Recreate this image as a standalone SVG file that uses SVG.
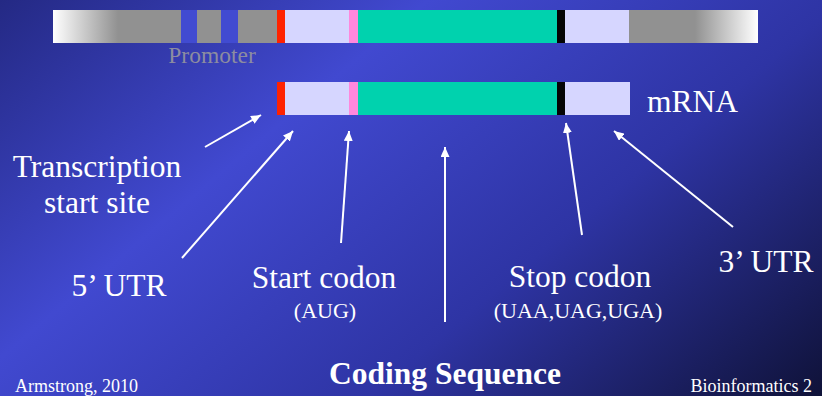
<svg xmlns="http://www.w3.org/2000/svg" width="822" height="396" viewBox="0 0 822 396">
  <defs>
    <linearGradient id="bg" gradientUnits="userSpaceOnUse" x1="0" y1="0" x2="534" y2="638">
      <stop offset="0" stop-color="#242984"/>
      <stop offset="0.33" stop-color="#4149d0"/>
      <stop offset="0.65" stop-color="#2e34a4"/>
      <stop offset="1" stop-color="#0f1238"/>
    </linearGradient>
    <linearGradient id="fadeL" x1="0" y1="0" x2="1" y2="0">
      <stop offset="0" stop-color="#ffffff"/>
      <stop offset="1" stop-color="#919191"/>
    </linearGradient>
    <linearGradient id="fadeR" x1="0" y1="0" x2="1" y2="0">
      <stop offset="0" stop-color="#919191"/>
      <stop offset="1" stop-color="#ffffff"/>
    </linearGradient>
    <marker id="head" markerUnits="userSpaceOnUse" markerWidth="11" markerHeight="9" refX="10" refY="4.5" orient="auto">
      <path d="M0,0 L10,4.5 L0,9 z" fill="#ffffff"/>
    </marker>
  </defs>
  <style>
    .lbl { font-family: "Liberation Serif", "Times New Roman", serif; fill: #ffffff; font-size: 31.5px; }
    .sub { font-family: "Liberation Serif", "Times New Roman", serif; fill: #ffffff; font-size: 22px; }
    .foot { font-family: "Liberation Serif", "Times New Roman", serif; fill: #ffffff; font-size: 18px; }
    .conn line { stroke: #ffffff; stroke-width: 2; marker-end: url(#head); }
  </style>

  <rect x="0" y="0" width="822" height="396" fill="url(#bg)"/>

  <!-- genomic DNA bar -->
  <g id="gene">
    <rect x="53" y="10" width="65" height="33" fill="url(#fadeL)"/>
    <rect x="118" y="10" width="63" height="33" fill="#919191"/>
    <rect x="181" y="10" width="16" height="33" fill="#414bd1"/>
    <rect x="197" y="10" width="24" height="33" fill="#919191"/>
    <rect x="221" y="10" width="17" height="33" fill="#414bd1"/>
    <rect x="238" y="10" width="39" height="33" fill="#919191"/>
    <rect x="277" y="10" width="8" height="33" fill="#ff2200"/>
    <rect x="285" y="10" width="64" height="33" fill="#d6d6ff"/>
    <rect x="349" y="10" width="9" height="33" fill="#ff88dd"/>
    <rect x="358" y="10" width="199" height="33" fill="#00d2ae"/>
    <rect x="557" y="10" width="8" height="33" fill="#050505"/>
    <rect x="565" y="10" width="64" height="33" fill="#d6d6ff"/>
    <rect x="629" y="10" width="66" height="33" fill="#919191"/>
    <rect x="695" y="10" width="63" height="33" fill="url(#fadeR)"/>
    <text x="212" y="63" text-anchor="middle" font-family="Liberation Serif, Times New Roman, serif" font-size="23.5" fill="#8c8ca0">Promoter</text>
  </g>

  <!-- mature transcript bar -->
  <g id="mrna">
    <rect x="277" y="82" width="8" height="33" fill="#ff2200"/>
    <rect x="285" y="82" width="64" height="33" fill="#d6d6ff"/>
    <rect x="349" y="82" width="9" height="33" fill="#ff88dd"/>
    <rect x="358" y="82" width="199" height="33" fill="#00d2ae"/>
    <rect x="557" y="82" width="8" height="33" fill="#050505"/>
    <rect x="565" y="82" width="65" height="33" fill="#d6d6ff"/>
    <text class="lbl" x="647" y="112">mRNA</text>
  </g>

  <g id="tss">
    <text class="lbl" x="97" y="177" text-anchor="middle">Transcription</text>
    <text class="lbl" x="97" y="213" text-anchor="middle">start site</text>
  </g>
  <g id="utr5">
    <text class="lbl" x="119" y="296" text-anchor="middle">5’ UTR</text>
  </g>
  <g id="start">
    <text class="lbl" x="324" y="288" text-anchor="middle">Start codon</text>
    <text class="sub" x="325" y="318" text-anchor="middle">(AUG)</text>
  </g>
  <g id="cds">
    <text class="lbl" x="445" y="384" text-anchor="middle" font-weight="bold" font-size="32">Coding Sequence</text>
  </g>
  <g id="stop">
    <text class="lbl" x="580" y="287" text-anchor="middle">Stop codon</text>
    <text class="sub" x="578" y="318" text-anchor="middle">(UAA,UAG,UGA)</text>
  </g>
  <g id="utr3">
    <text class="lbl" x="766" y="272" text-anchor="middle">3’ UTR</text>
  </g>

  <g id="footer">
    <text class="foot" x="15" y="392">Armstrong, 2010</text>
    <text class="foot" x="812" y="392" text-anchor="end">Bioinformatics 2</text>
  </g>

  <g id="connectors" class="conn">
    <line x1="205" y1="147" x2="261" y2="115"/>
    <line x1="182" y1="258" x2="293" y2="131"/>
    <line x1="341" y1="243" x2="349" y2="131"/>
    <line x1="445" y1="322" x2="445" y2="147"/>
    <line x1="582" y1="235" x2="566" y2="123"/>
    <line x1="733" y1="227" x2="614" y2="131"/>
  </g>
</svg>
